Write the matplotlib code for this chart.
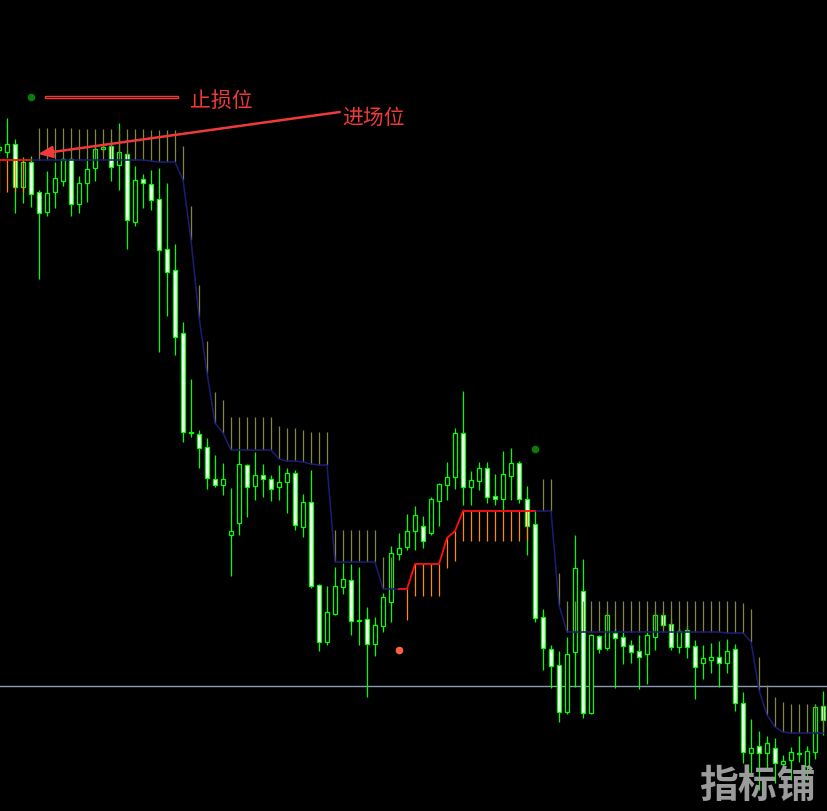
import numpy as np
import matplotlib
matplotlib.use("Agg")
import matplotlib.pyplot as plt
from matplotlib.patches import Rectangle

plt.rcParams['font.family'] = ['Noto Sans CJK SC', 'DejaVu Sans']

# ------------------------------------------------------------
# Candle data (bar index -1 .. 102), prices
# ------------------------------------------------------------
bars = np.arange(-1, 103)

opens = [850, 848, 856, 813, 838, 808, 788, 808, 819, 841,
         796, 817, 832, 851, 854, 835, 846, 778, 821, 816,
         801, 751, 730, 667, 568, 566, 553, 521, 515, 465,
         477, 535, 514, 525, 521, 513, 518, 527, 473, 498,
         415, 358, 386, 413, 420, 380, 381, 356, 374, 398,
         446, 453, 469, 474, 467, 499, 515, 523, 567, 513,
         519, 532, 504, 501, 524, 537, 501, 476, 383, 351,
         335, 288, 348, 409, 287, 364, 352, 367, 363, 355,
         349, 346, 363, 385, 376, 353, 370, 354, 337, 340,
         343, 337, 351, 297, 247, 254, 247, 252, 236, 240,
         247, 234, 248, 294]
highs = [858, 882, 861, 843, 844, 810, 829, 838, 843, 843,
         824, 840, 854, 858, 860, 877, 850, 834, 826, 830,
         832, 817, 756, 678, 621, 570, 562, 545, 537, 512,
         550, 536, 548, 536, 525, 535, 532, 530, 506, 530,
         416, 414, 433, 437, 436, 433, 393, 383, 407, 454,
         467, 486, 494, 484, 503, 517, 538, 572, 609, 529,
         538, 538, 526, 549, 552, 539, 514, 489, 391, 355,
         349, 363, 465, 441, 366, 365, 388, 372, 368, 360,
         365, 368, 388, 388, 382, 372, 375, 360, 355, 357,
         359, 361, 356, 308, 281, 269, 264, 262, 245, 253,
         264, 254, 296, 309]
lows = [844, 842, 787, 797, 793, 721, 784, 792, 814, 784,
        787, 798, 819, 848, 819, 810, 751, 774, 792, 790,
        648, 684, 645, 558, 563, 532, 511, 513, 505, 424,
        465, 483, 500, 503, 499, 500, 487, 470, 463, 412,
        349, 355, 385, 406, 365, 355, 303, 344, 368, 378,
        440, 450, 450, 452, 465, 474, 500, 511, 495, 495,
        510, 497, 495, 490, 500, 497, 445, 378, 330, 312,
        278, 286, 313, 282, 286, 347, 350, 312, 336, 337,
        311, 316, 350, 372, 350, 347, 342, 301, 321, 327,
        313, 327, 289, 237, 227, 210, 232, 217, 227, 220,
        238, 220, 241, 265]
closes = [853, 856, 813, 838, 806, 787, 807, 822, 841, 796,
          817, 831, 851, 853, 833, 848, 780, 820, 817, 800,
          750, 728, 663, 568, 567, 552, 522, 515, 521, 469,
          536, 513, 525, 521, 511, 518, 527, 475, 498, 414,
          358, 388, 414, 421, 379, 379, 356, 375, 403, 447,
          452, 469, 485, 459, 501, 516, 523, 567, 513, 520,
          532, 503, 501, 526, 537, 501, 474, 382, 352, 334,
          288, 346, 432, 287, 365, 351, 385, 362, 354, 348,
          343, 365, 385, 375, 353, 369, 353, 333, 342, 343,
          337, 349, 297, 248, 252, 247, 257, 237, 239, 248,
          246, 249, 293, 280]

nan = np.nan
# upper stop line (down trend) and top of its histogram bars
upper_line = ([nan] * 4 + [840] * 15 + [839, 838, 838, 838, 820, 760, 683, 627, 577, 567]
              + [550] * 6 + [541, 539, 539, 538, 536, 535, 535] + [438] * 6
              + [411, 411, 411] + [nan] * 16 + [489, 489, 489, 395] + [368] * 20
              + [367, 367, 367, 358, 310, 285, 273, 268] + [267] * 5)
upper_top = ([nan] * 5 + [872] * 5 + [871] * 9 + [870] * 4 + [854, 794, 715, 659, 608, 600]
             + [583] * 6 + [574, 572, 572, 570, 568, 568, 568] + [470] * 6
             + [443, 443] + [nan] * 18 + [521, 521, 427] + [399] * 22
             + [397, 391, 343, 315, 303, 298] + [296] * 5)
# lower stop line (up trend) and bottom of its histogram bars
lower_line = ([840] * 5 + [nan] * 45 + [411, 411, 436, 436, 436, 436, 462, 469]
              + [489] * 10 + [nan] * 36)
lower_bot = ([808] * 4 + [nan] * 47 + [380, 404, 404, 404, 404, 432, 439]
             + [459] * 9 + [nan] * 37)

level_line = 314          # grey horizontal level
signal_up = (66, 551)     # green dot
signal_down = (49, 350)   # red dot

opens, highs, lows, closes = map(np.array, (opens, highs, lows, closes))
upper_line, upper_top = np.array(upper_line, float), np.array(upper_top, float)
lower_line, lower_bot = np.array(lower_line, float), np.array(lower_bot, float)

# ------------------------------------------------------------
# Figure
# ------------------------------------------------------------
fig = plt.figure(figsize=(8.27, 8.11), dpi=100, facecolor='black')
ax = fig.add_axes([0, 0, 1, 1])
ax.set_facecolor('black')
ax.set_xlim(-0.875, 102.5)
ax.set_ylim(189, 1000)
ax.axis('off')

lime = '#00ff00'

# candles
ax.vlines(bars, lows, highs, color=lime, lw=0.9, zorder=2)
bull = closes > opens
body_lo = np.minimum(opens, closes)
body_h = np.maximum(np.abs(closes - opens), 1)
ax.bar(bars[bull], body_h[bull], bottom=body_lo[bull], width=0.55,
       facecolor='black', edgecolor=lime, lw=0.9, zorder=2)
ax.bar(bars[~bull], body_h[~bull], bottom=body_lo[~bull], width=0.55,
       facecolor='white', edgecolor=lime, lw=0.9, zorder=2)

# grey level
ax.axhline(level_line, color='#8a9ab0', lw=1.0, zorder=1)

# stop lines with histogram bars
ok_up = ~np.isnan(upper_top) & ~np.isnan(upper_line)
ax.vlines(bars[ok_up], upper_line[ok_up], upper_top[ok_up], color='#858542', lw=0.9, zorder=3)
ok_dn = ~np.isnan(lower_bot) & ~np.isnan(lower_line)
ax.vlines(bars[ok_dn], lower_bot[ok_dn], lower_line[ok_dn], color='#ff8c00', lw=0.9, zorder=3)
ax.plot(bars, upper_line, color='#1c1c78', lw=1.1, zorder=4)
ax.plot(bars, lower_line, color='#ff1010', lw=1.3, zorder=4)

# signal dots
ax.scatter(*signal_up, s=30, color='#0b7a0b', zorder=5, lw=0)
ax.scatter(*signal_down, s=30, color='#ff6040', zorder=5, lw=0)

# annotations
red = '#f03a3a'
ax.scatter(3, 903, s=30, color='#0b7a0b', zorder=5, lw=0)
ax.add_patch(Rectangle((4.75, 901.6), 16.6, 2.6, fill=False, edgecolor=red, lw=1.0, zorder=5))
ax.text(22.9, 899, '止损位', color=red, fontsize=15, va='center', ha='left', zorder=6)
ax.text(41.9, 882, '进场位', color=red, fontsize=15, va='center', ha='left', zorder=6)
ax.annotate('', xy=(3.9, 846), xytext=(41.6, 888),
            arrowprops=dict(arrowstyle='-|>,head_length=0.6,head_width=0.25',
                            color=red, lw=1.8, mutation_scale=14,
                            shrinkA=0, shrinkB=0), zorder=6)

# watermark
ax.text(93.75, 214, '指标铺', color='#9b9b9b', fontsize=28, fontweight='bold',
        ha='center', va='center', zorder=7)

fig.savefig('out.png', dpi=100, facecolor='black')
